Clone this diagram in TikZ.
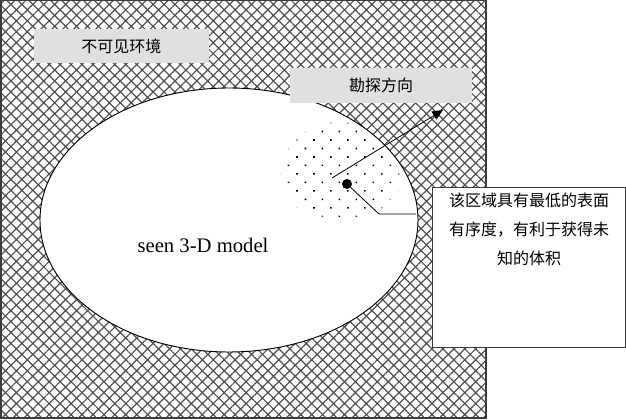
\documentclass[tikz,border=0pt]{standalone}
\usepackage{fontspec}
\setmainfont{Liberation Serif}
\newfontfamily\cjk{Noto Sans CJK SC}
\usepackage{xcolor}
\usetikzlibrary{shapes.geometric,patterns.meta,fadings,positioning,arrows.meta}
\definecolor{tagfill}{RGB}{224,224,224}
\definecolor{hatchgray}{RGB}{80,80,80}
\definecolor{framegray}{RGB}{60,60,60}

\begin{document}
\begin{tikzpicture}[
    x=0.75pt, y=-0.75pt,
    tagbox/.style={rectangle, fill=tagfill, inner sep=0pt, font=\cjk\fontsize{12}{14}\selectfont},
    notebox/.style={rectangle, draw=framegray, fill=white, line width=0.7pt, minimum width=144.75pt, minimum height=120pt},
    notetext/.style={inner sep=0pt, text width=124pt, align=center, font=\cjk\fontsize{12}{21.4}\selectfont},
    model/.style={ellipse, draw=black, fill=white, line width=0.7pt, inner sep=0pt, minimum width=283.5pt, minimum height=198pt},
    callout/.style={line width=0.6pt, color=black}
]
\useasboundingbox (0,0) rectangle (626,420);

% Unseen environment
\fill[pattern={Hatch[angle=45,distance=5.8pt,line width=0.9pt]}, pattern color=hatchgray] (1,0) rectangle (486,418);
\draw[framegray, line width=0.8pt] (1,0) rectangle (486,418);
\node[tagbox, minimum width=131.25pt, minimum height=25.5pt] (unseen) at (121.5,46) {不可见环境};

% Seen model
\node[model] (seenmodel) at (229,220) {};
\node[font=\fontsize{15.5}{18}\selectfont] (seenlabel) at (203,245) {seen 3-D model};

% Low order region
\begin{scope}
    \clip (229,220) ellipse [x radius=189, y radius=132];
    \fill[pattern={Dots[distance=9pt,angle=45,radius=0.85pt]}, path fading=circle with fuzzy edge 15 percent] (341,172) ellipse [x radius=62, y radius=52];
\end{scope}

% Exploration direction
\node[tagbox, minimum width=136.5pt, minimum height=26.25pt] (direction) at (381,85.5) {勘探方向};
\coordinate (tail) at (332,178);
\coordinate (head) at (443,110);
\draw[callout, -{Triangle[length=8pt,width=7pt]}] (tail) -- (head);

% Callout
\node[circle, fill=black, inner sep=0pt, minimum size=7.5pt] (spot) at (347,184) {};
\coordinate (bend) at (379,214);
\coordinate (rim) at (416,214);
\draw[callout] (spot) -- (bend) -- (rim);

\node[notebox] (note) at (529,267) {};
\node[notetext, below=5pt of note.north] (notetxt) {该区域具有最低的表面\\有序度，有利于获得未\\知的体积};

\end{tikzpicture}
\end{document}
